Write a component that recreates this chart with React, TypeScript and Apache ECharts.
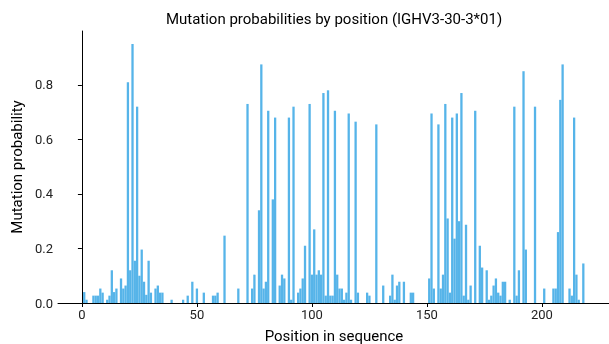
import React, { useEffect, useRef } from "react";
import * as echarts from "echarts";

const positions = [
  1, 2, 5, 6, 7, 8, 9, 11, 12, 13, 14, 15, 17, 18, 19, 20, 21, 22, 23, 24, 25, 26, 27, 28, 29, 30,
  32, 33, 34, 35, 39, 44, 46, 48, 50, 53, 57, 58, 59, 62, 68, 72, 74, 75, 77, 78, 79, 80, 81, 83,
  84, 86, 87, 88, 90, 91, 92, 94, 95, 96, 97, 99, 100, 101, 102, 103, 104, 105, 106, 107, 108, 109,
  110, 111, 112, 113, 114, 115, 116, 117, 119, 120, 124, 125, 128, 131, 134, 135, 136, 137, 138, 140,
  143, 144, 151, 152, 153, 155, 156, 157, 158, 159, 160, 161, 162, 163, 164, 165, 166, 167, 168, 169,
  171, 173, 174, 176, 177, 178, 179, 180, 181, 182, 183, 184, 186, 188, 189, 190, 192, 193, 197, 201,
  205, 206, 207, 208, 209, 212, 213, 214, 215, 216, 218,
];

const probabilities = [
  0.04, 0.012, 0.027, 0.027, 0.027, 0.053, 0.038, 0.012, 0.027, 0.12, 0.04, 0.053, 0.09, 0.053, 0.064, 0.81, 0.12, 0.95, 0.155, 0.72, 0.1, 0.196, 0.078, 0.03, 0.155, 0.038,
  0.053, 0.064, 0.038, 0.038, 0.012, 0.012, 0.027, 0.078, 0.053, 0.038, 0.027, 0.027, 0.038, 0.247, 0.053, 0.73, 0.053, 0.104, 0.34, 0.875, 0.053, 0.078, 0.705, 0.38,
  0.68, 0.064, 0.104, 0.09, 0.68, 0.012, 0.72, 0.038, 0.053, 0.09, 0.21, 0.73, 0.104, 0.27, 0.104, 0.12, 0.104, 0.77, 0.027, 0.78, 0.027, 0.027,
  0.705, 0.104, 0.053, 0.053, 0.012, 0.038, 0.695, 0.012, 0.665, 0.038, 0.038, 0.027, 0.655, 0.064, 0.027, 0.104, 0.012, 0.064, 0.078, 0.078,
  0.038, 0.038, 0.09, 0.695, 0.053, 0.655, 0.053, 0.104, 0.73, 0.31, 0.038, 0.68, 0.236, 0.695, 0.3, 0.77, 0.027, 0.287, 0.012, 0.064,
  0.705, 0.21, 0.13, 0.12, 0.012, 0.027, 0.064, 0.09, 0.038, 0.027, 0.078, 0.078, 0.012, 0.72, 0.027, 0.12, 0.85, 0.196, 0.72, 0.053,
  0.053, 0.053, 0.26, 0.745, 0.875, 0.053, 0.027, 0.68, 0.104, 0.012, 0.145,
];

const xTicks = [0, 50, 100, 150, 200];
const yTicks = [0, 0.2, 0.4, 0.6, 0.8];

const TITLE = "Mutation probabilities by position (IGHV3-30-3*01)";
const X_NAME = "Position in sequence";
const Y_NAME = "Mutation probability";

export default function App() {
  const ref = useRef<HTMLDivElement>(null);
  useEffect(() => {
    if (!ref.current) return;
    const chart = echarts.init(ref.current, null, { renderer: "svg" });
    const font = "Roboto, 'DejaVu Sans', sans-serif";
    chart.setOption({
      animation: false,
      textStyle: { fontFamily: font },
      grid: { left: 58, top: 31, width: 552, height: 272, outerBoundsMode: "none" },
      graphic: [
        {
          type: "text",
          x: 334,
          y: 19,
          style: {
            text: TITLE,
            fontSize: 15,
            fontFamily: font,
            fill: "#000",
            align: "center",
            verticalAlign: "middle",
          },
        },
      ],
      xAxis: {
        type: "value",
        min: -10.4,
        max: 229.6,
        name: X_NAME,
        nameLocation: "middle",
        nameGap: 25,
        nameTextStyle: { fontSize: 15, color: "#000", fontFamily: font },
        axisLine: { show: true, lineStyle: { color: "#000", width: 1 } },
        axisTick: { show: true, length: 4, customValues: xTicks, lineStyle: { color: "#000" } },
        axisLabel: { customValues: xTicks, fontSize: 13, color: "#222", margin: 5 },
        splitLine: { show: false },
      },
      yAxis: {
        type: "value",
        min: 0,
        max: 0.9975,
        name: Y_NAME,
        nameLocation: "middle",
        nameRotate: 90,
        nameGap: 34,
        nameTextStyle: { fontSize: 15, color: "#000", fontFamily: font },
        axisLine: { show: true, lineStyle: { color: "#000", width: 1 } },
        axisTick: { show: true, length: 4, customValues: yTicks, lineStyle: { color: "#000" } },
        axisLabel: {
          customValues: yTicks,
          fontSize: 13,
          color: "#222",
          margin: 5,
          formatter: (v: number) => v.toFixed(1),
        },
        splitLine: { show: false },
      },
      series: [
        {
          type: "bar",
          data: positions.map((p, i) => [p, probabilities[i]]),
          barWidth: 2.3,
          itemStyle: { color: "#56B4E9" },
        },
      ],
    });
    return () => chart.dispose();
  }, []);
  return (
    <div
      ref={ref}
      style={{ position: "fixed", left: 0, top: 0, width: 609, height: 344 }}
    />
  );
}
